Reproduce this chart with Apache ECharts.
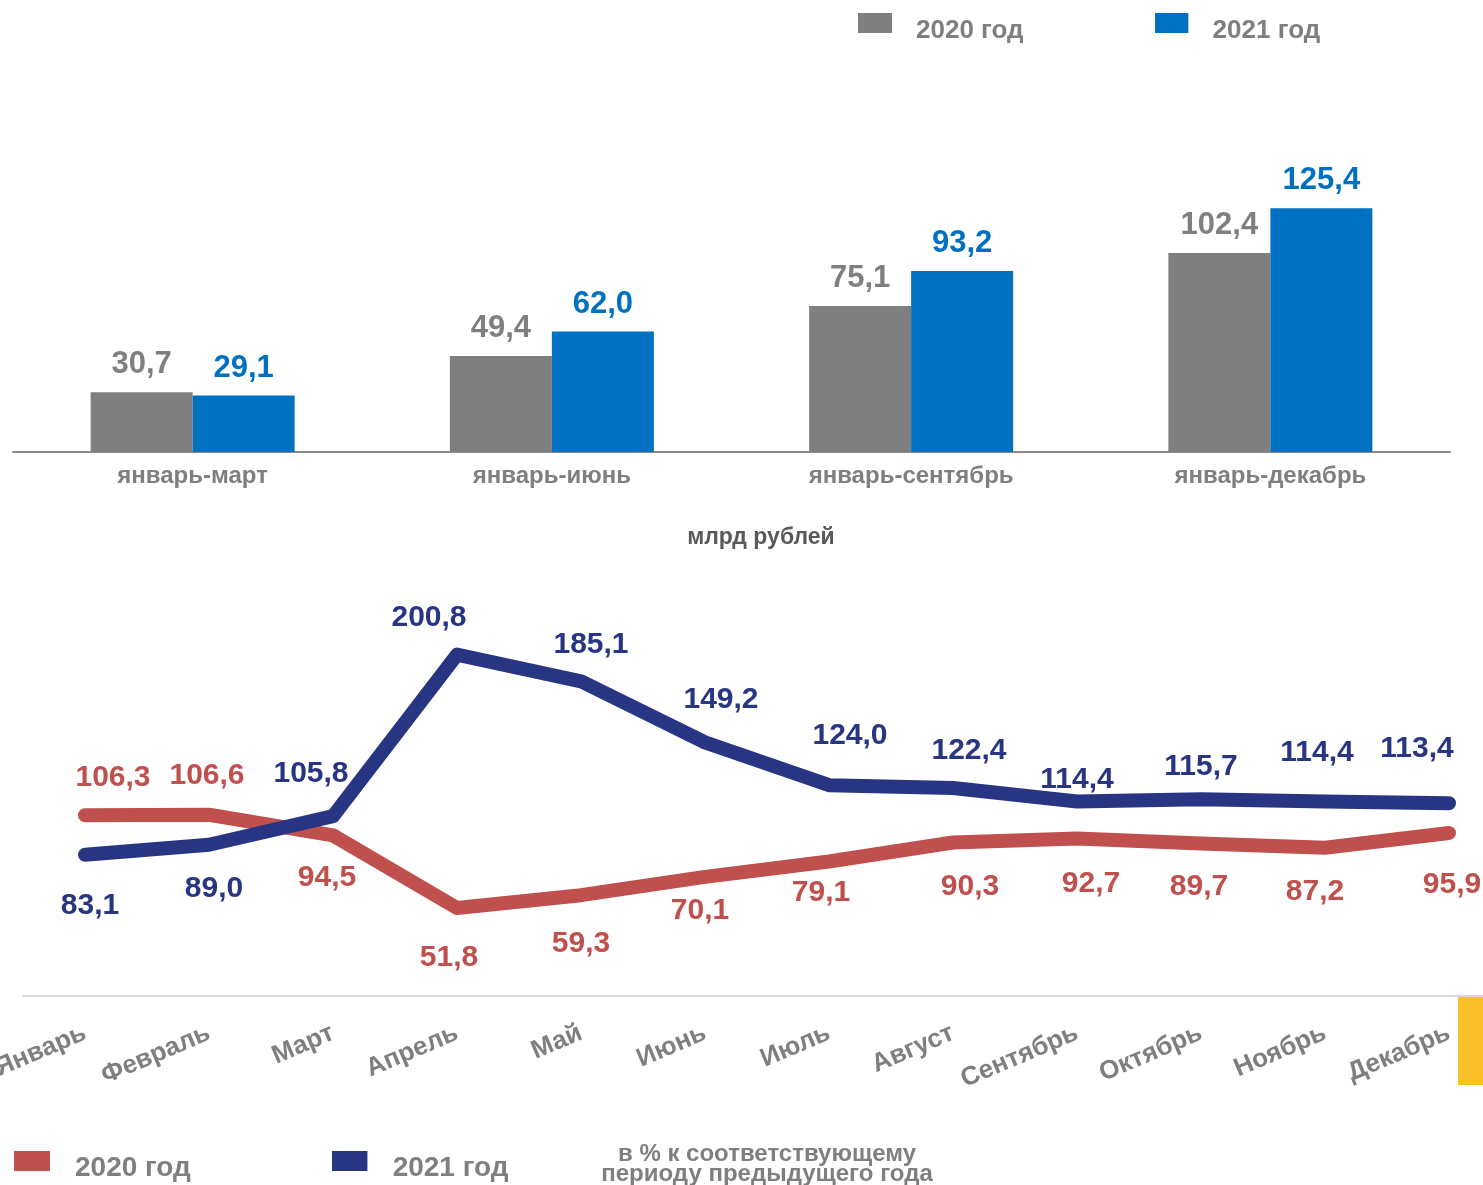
<!DOCTYPE html>
<html>
<head>
<meta charset="utf-8">
<script src="https://cdn.jsdelivr.net/npm/echarts@6/dist/echarts.min.js"></script>
<style>
  html, body { margin: 0; padding: 0; background: #fff; }
  #chart { width: 1483px; height: 1185px; }
</style>
</head>
<body>
<div id="chart"></div>
<script>
// верхний график, млрд рублей
const periods = ['январь-март', 'январь-июнь', 'январь-сентябрь', 'январь-декабрь']
const sum2020 = [30.7, 49.4, 75.1, 102.4]
const sum2021 = [29.1, 62.0, 93.2, 125.4]

// нижний график, в % к соответствующему периоду
const months = ['Январь', 'Февраль', 'Март', 'Апрель', 'Май', 'Июнь', 'Июль', 'Август', 'Сентябрь', 'Октябрь', 'Ноябрь', 'Декабрь']
const pct2020 = [106.3, 106.6, 94.5, 51.8, 59.3, 70.1, 79.1, 90.3, 92.7, 89.7, 87.2, 95.9]
const pct2021 = [83.1, 89.0, 105.8, 200.8, 185.1, 149.2, 124.0, 122.4, 114.4, 115.7, 114.4, 113.4]

// сдвиги подписей от точек (как в исходнике)
const offs2020 = [[28, -38], [-2, -39], [-6, 42], [-8, 50], [0, 49], [-5, 34], [-8, 31], [17, 44], [14, 45], [-2, 43], [-10, 44], [3, 52]]
const offs2021 = [[5, 51], [5, 44], [-22, -42], [-28, -37], [10, -37], [16, -43], [21, -49], [16, -37], [0, -22], [0, -33], [-8, -49], [-32, -54]]

const FONT = '"Liberation Sans", Arial, sans-serif'
const GRAY = '#7f7f7f'
const BLUE = '#0070c0'
const RED = '#c0504d'
const NAVY = '#283583'

const fmt = v => v.toFixed(1).replace('.', ',')

// квадрат легенды сверху, текст чуть ниже (как в Excel)
function legendIcon(color, w, h, rh) {
  const svg = '<svg xmlns="http://www.w3.org/2000/svg" width="' + w + '" height="' + h +
    '" viewBox="0 0 ' + w + ' ' + h + '"><rect x="0" y="0" width="' + w + '" height="' + rh +
    '" fill="' + color + '"/></svg>'
  return 'image://data:image/svg+xml;charset=utf-8,' + encodeURIComponent(svg)
}

function lineSeries(name, values, offs, color) {
  return {
    name: name,
    type: 'line',
    xAxisIndex: 1,
    yAxisIndex: 1,
    data: values.map((v, i) => ({ value: v, label: { offset: offs[i] } })),
    symbol: 'circle',
    symbolSize: 2,
    showSymbol: true,
    itemStyle: { color: color },
    lineStyle: { width: 14, color: color, cap: 'round', join: 'round' },
    label: {
      show: true,
      position: 'inside',
      formatter: p => fmt(p.value),
      color: color,
      fontSize: 30,
      fontWeight: 'bold',
      fontFamily: FONT
    },
    emphasis: { disabled: true }
  }
}

function barSeries(name, values, color) {
  return {
    name: name,
    type: 'bar',
    data: values,
    barWidth: 102,
    barGap: '0%',
    itemStyle: { color: color },
    label: {
      show: true, position: 'top', distance: 12,
      formatter: p => fmt(p.value),
      color: color, fontSize: 31, fontWeight: 'bold'
    },
    emphasis: { disabled: true }
  }
}

const chart = echarts.init(document.getElementById('chart'))

chart.setOption({
  animation: false,
  textStyle: { fontFamily: FONT },
  legend: [
    {
      data: [
        { name: '2020 год', icon: legendIcon(GRAY, 34, 36, 20) },
        { name: '2021 год', icon: legendIcon(BLUE, 34, 36, 20) }
      ],
      left: 858, top: 13, padding: 0,
      itemWidth: 34, itemHeight: 36, itemGap: 131,
      textStyle: { color: GRAY, fontSize: 26, fontWeight: 'bold', padding: [0, 0, 0, 19] }
    },
    {
      data: [
        { name: '2020 год ', icon: legendIcon(RED, 36, 34, 20) },
        { name: '2021 год ', icon: legendIcon(NAVY, 36, 34, 20) }
      ],
      left: 14, top: 1151, padding: 0,
      itemWidth: 36, itemHeight: 34, itemGap: 133,
      textStyle: { color: GRAY, fontSize: 28, fontWeight: 'bold', padding: [0, 0, 0, 20] }
    }
  ],
  grid: [
    { left: 13, width: 1437, top: 180, height: 272, outerBoundsMode: 'none' },
    { left: 23, width: 1488, top: 571, height: 425, outerBoundsMode: 'none' }
  ],
  xAxis: [
    {
      type: 'category',
      gridIndex: 0,
      data: periods,
      axisLine: { lineStyle: { color: '#8c8c8c', width: 2 } },
      axisTick: { show: false },
      axisLabel: { color: GRAY, fontSize: 24, fontWeight: 'bold', margin: 12 }
    },
    {
      type: 'category',
      gridIndex: 1,
      data: months,
      axisLine: { lineStyle: { color: '#d9d9d9', width: 2 } },
      axisTick: { show: false },
      axisLabel: { color: GRAY, fontSize: 26, fontWeight: 'bold', rotate: 23, margin: 36, interval: 0 }
    }
  ],
  yAxis: [
    { type: 'value', gridIndex: 0, min: 0, max: 140, show: false },
    { type: 'value', gridIndex: 1, min: 0, max: 250, show: false }
  ],
  series: [
    barSeries('2020 год', sum2020, GRAY),
    barSeries('2021 год', sum2021, BLUE),
    lineSeries('2020 год ', pct2020, offs2020, RED),
    lineSeries('2021 год ', pct2021, offs2021, NAVY)
  ],
  graphic: [
    {
      type: 'text',
      style: { x: 761, y: 526, text: 'млрд рублей', fill: '#595959', font: 'bold 23px ' + FONT, align: 'center' }
    },
    {
      type: 'text',
      style: {
        x: 767, y: 1144,
        text: 'в % к соответствующему\nпериоду предыдущего года',
        fill: GRAY, font: 'bold 24px ' + FONT,
        align: 'center', lineHeight: 20
      }
    },
    {
      type: 'rect',
      shape: { x: 1458, y: 997, width: 25, height: 88 },
      style: { fill: '#fbbf2a' }
    }
  ]
})
</script>
</body>
</html>
